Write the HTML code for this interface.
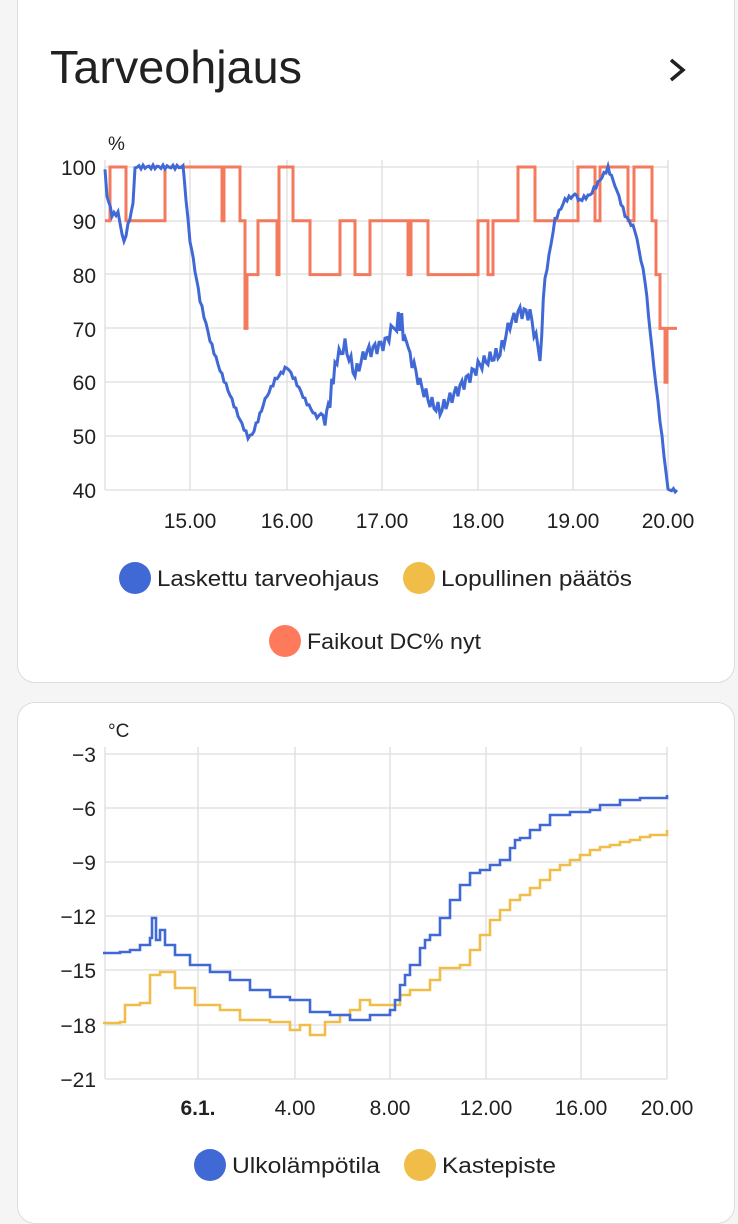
<!DOCTYPE html>
<html><head><meta charset="utf-8"><style>
body{margin:0;width:738px;height:1199px;background:#f5f5f5;font-family:"Liberation Sans",sans-serif;overflow:hidden;position:relative}
.card{position:absolute;left:17px;width:716px;background:#fff;border:1px solid #dcdcdc;border-radius:18px}
svg{position:absolute;left:0;top:0}
text{font-family:"Liberation Sans",sans-serif;fill:#212121}
</style></head><body>
<div class="card" style="top:-20px;height:701px"></div>
<div class="card" style="top:702px;height:520px"></div>
<svg width="738" height="1199" id="s">
<text x="50" y="83" font-size="46" textLength="252" lengthAdjust="spacingAndGlyphs">Tarveohjaus</text>
<path d="M671 60 L683 70 L671 80" fill="none" stroke="#212121" stroke-width="3.5"/>
<text x="108" y="150" font-size="19">%</text>
<g id="g1" stroke="#ddd" stroke-width="1.3"></g>
<g font-size="21" text-anchor="end">
<text x="96" y="175">100</text><text x="96" y="229">90</text><text x="96" y="283">80</text><text x="96" y="337">70</text><text x="96" y="390">60</text><text x="96" y="444">50</text><text x="96" y="498">40</text>
</g>
<g font-size="21" text-anchor="middle">
<text x="190" y="528">15.00</text><text x="287" y="528">16.00</text><text x="382" y="528">17.00</text><text x="478" y="528">18.00</text><text x="573" y="528">19.00</text><text x="668" y="528">20.00</text>
</g>
<circle cx="135" cy="578" r="16" fill="#4169d6"/><text x="157" y="586" font-size="22" textLength="222" lengthAdjust="spacingAndGlyphs">Laskettu tarveohjaus</text>
<circle cx="419" cy="578" r="16" fill="#f0be48"/><text x="441" y="586" font-size="22" textLength="191" lengthAdjust="spacingAndGlyphs">Lopullinen päätös</text>
<circle cx="285" cy="641" r="16" fill="#ff7a5c"/><text x="307" y="649" font-size="22" textLength="174" lengthAdjust="spacingAndGlyphs">Faikout DC% nyt</text>

<text x="108" y="737" font-size="19">°C</text>
<g id="g2" stroke="#ddd" stroke-width="1.3"></g>
<g font-size="21" text-anchor="end">
<text x="96" y="762">−3</text><text x="96" y="816">−6</text><text x="96" y="870">−9</text><text x="96" y="924">−12</text><text x="96" y="978">−15</text><text x="96" y="1033">−18</text><text x="96" y="1087">−21</text>
</g>
<g font-size="21" text-anchor="middle">
<text x="198" y="1115" font-weight="bold">6.1.</text><text x="295" y="1115">4.00</text><text x="390" y="1115">8.00</text><text x="486" y="1115">12.00</text><text x="581" y="1115">16.00</text><text x="667" y="1115">20.00</text>
</g>
<circle cx="210" cy="1165" r="16" fill="#4169d6"/><text x="232" y="1173" font-size="22" textLength="148" lengthAdjust="spacingAndGlyphs">Ulkolämpötila</text>
<circle cx="420" cy="1165" r="16" fill="#f0be48"/><text x="442" y="1173" font-size="22" textLength="114" lengthAdjust="spacingAndGlyphs">Kastepiste</text>
</svg>
<script>
var s=document.getElementById('s'),NS='http://www.w3.org/2000/svg';
function el(p,t,a){var e=document.createElementNS(NS,t);for(var k in a)e.setAttribute(k,a[k]);p.appendChild(e);return e;}
var g1=document.getElementById('g1'),g2=document.getElementById('g2');
[167,221,274,328,382,436,490].forEach(function(y){el(g1,'line',{x1:105,x2:668,y1:y,y2:y});});
[105,190,287,382,478,573,668].forEach(function(x){el(g1,'line',{x1:x,x2:x,y1:160,y2:490});});
[754,808,862,916,970,1025,1079].forEach(function(y){el(g2,'line',{x1:105,x2:667,y1:y,y2:y});});
[105,198,295,390,486,581,667].forEach(function(x){el(g2,'line',{x1:x,x2:x,y1:747,y2:1079});});
function yv(v){return 167+(100-v)*5.38;}
var o=[[105,90],[110,100],[126,90],[165,100],[222,90],[224,100],[240,90],[245,70],[247,80],[258,90],[277,80],[279,100],[293,90],[310,80],[340,90],[355,80],[370,90],[393,90],[408,80],[411,90],[428,80],[478,90],[488,80],[493,90],[518,100],[535,90],[578,100],[595,90],[600,100],[628,90],[634,100],[652,90],[656,80],[660,70],[665,60],[667,70],[677,70]];
var d='M'+o[0][0]+' '+yv(o[0][1]);
for(var i=1;i<o.length;i++){d+=' H'+o[i][0]+' V'+yv(o[i][1]);}
el(s,'path',{d:d,fill:'none',stroke:'#f47a5e','stroke-width':3});
var b=[[105,170],[107,195],[112,215],[118,213],[124,243],[128,225],[133,205],[135,167],[183,167],[186,200],[190,240],[195,270],[200,300],[210,340],[220,370],[230,395],[240,420],[248,437],[252,435],[258,420],[265,400],[275,380],[287,367],[295,380],[305,400],[315,415],[325,420],[330,400],[335,365],[345,350],[355,380],[365,360],[375,355],[385,350],[395,330],[400,318],[405,340],[410,350],[420,380],[430,400],[440,410],[450,400],[460,390],[470,380],[480,370],[490,365],[500,360],[510,330],[520,318],[530,320],[540,360],[545,280],[555,220],[565,200],[575,195],[580,200],[590,195],[600,180],[608,168],[615,185],[625,215],[635,230],[645,280],[652,350],[660,420],[668,490],[677,490]];
var pts=[];
for(var i=0;i<b.length-1;i++){var a=b[i],c=b[i+1],n=Math.max(1,Math.round((c[0]-a[0])/2));for(var j=0;j<n;j++){var t=j/n,x=a[0]+(c[0]-a[0])*t,y=a[1]+(c[1]-a[1])*t;var noisy=(x>320&&x<545)?((Math.sin(x*7.3)*Math.sin(x*2.1))*14):Math.sin(x*5)*2;pts.push(x.toFixed(1)+','+(y+noisy).toFixed(1));}}
pts.push('677,490');
el(s,'polyline',{points:pts.join(' '),fill:'none',stroke:'#4169d6','stroke-width':3});
function step(arr,col){var d='M'+arr[0][0]+' '+arr[0][1];for(var i=1;i<arr.length;i++)d+=' H'+arr[i][0]+' V'+arr[i][1];el(s,'path',{d:d,fill:'none',stroke:col,'stroke-width':2.6});}
step([[103,1023],[120,1022],[125,1005],[140,1003],[150,975],[160,972],[175,988],[195,1005],[220,1010],[240,1020],[270,1022],[290,1030],[300,1025],[310,1035],[325,1022],[340,1015],[350,1010],[360,1000],[370,1005],[390,1005],[400,995],[410,990],[430,980],[440,968],[460,965],[470,950],[480,935],[490,920],[500,910],[510,900],[520,895],[530,888],[540,880],[550,870],[560,865],[570,860],[580,855],[590,850],[600,847],[610,845],[620,842],[630,840],[640,837],[650,835],[667,830]],'#f0be48');
step([[103,953],[120,952],[130,950],[140,945],[150,938],[152,918],[156,940],[160,930],[165,945],[175,955],[190,965],[210,972],[230,980],[250,990],[270,997],[290,1000],[310,1012],[330,1015],[350,1020],[370,1015],[390,1010],[395,1000],[400,985],[405,975],[410,965],[420,948],[425,940],[430,935],[440,918],[450,900],[460,885],[470,873],[480,870],[490,865],[500,860],[510,848],[515,840],[520,838],[530,830],[540,825],[550,815],[560,815],[570,812],[580,812],[590,810],[600,805],[620,800],[640,798],[667,795]],'#4169d6');
</script>
</body></html>
